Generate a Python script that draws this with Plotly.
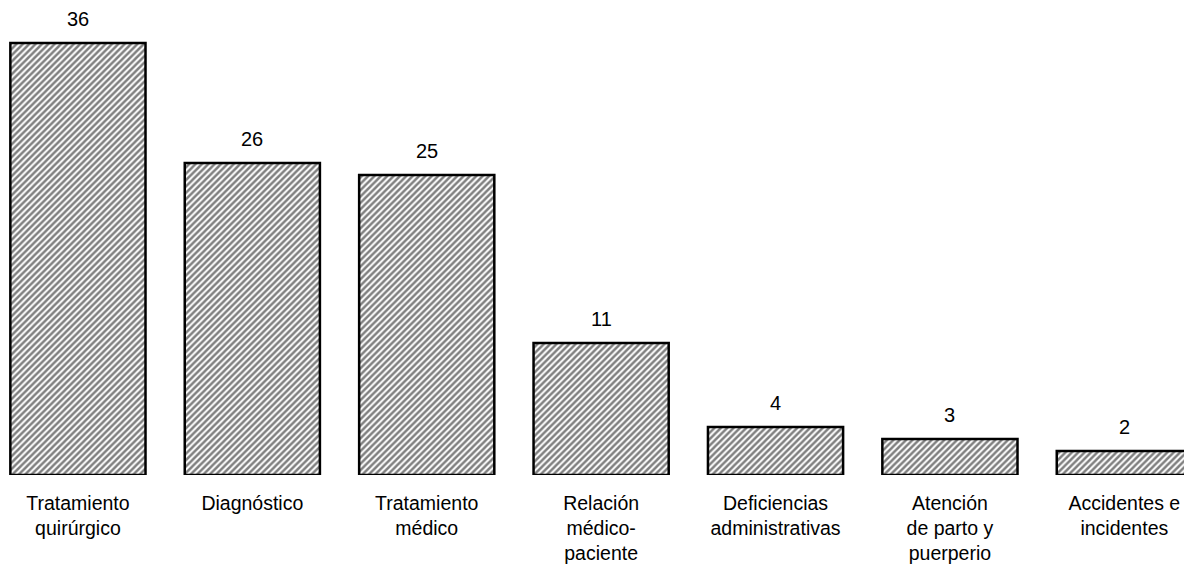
import plotly.graph_objects as go

categories = ["Tratamiento<br>quirúrgico", "Diagnóstico", "Tratamiento<br>médico",
              "Relación<br>médico-<br>paciente", "Deficiencias<br>administrativas",
              "Atención<br>de parto y<br>puerperio", "Accidentes e<br>incidentes"]
values = [36, 26, 25, 11, 4, 3, 2]

xs = list(range(len(categories)))

fig = go.Figure()
fig.add_trace(go.Bar(
    x=xs, y=values,
    width=0.775,
    marker=dict(
        color="white",
        line=dict(color="black", width=2.5),
        pattern=dict(shape="/", fgcolor="black", bgcolor="white", size=4.5, solidity=0.55),
    ),
    showlegend=False,
))

for xi, v in zip(xs, values):
    fig.add_annotation(x=xi, y=v, text=str(v), showarrow=False,
                       yanchor="bottom", yshift=12, borderpad=0,
                       font=dict(family="Liberation Sans, Arial", size=20, color="black"))

fig.update_layout(
    width=1184, height=556,
    margin=dict(l=0, r=0, t=0, b=89),
    plot_bgcolor="white", paper_bgcolor="white",
    font=dict(family="Liberation Sans, Arial", size=20, color="black"),
    xaxis=dict(range=[-0.401, 6.388], tickmode="array", tickvals=xs, ticktext=categories,
               showgrid=False, zeroline=False, showline=False, ticks="",
               ticklabelstandoff=14, tickfont=dict(size=19.5)),
    yaxis=dict(range=[0, 38.92], visible=False, showgrid=False, zeroline=False),
)

fig.write_html("out.html")
